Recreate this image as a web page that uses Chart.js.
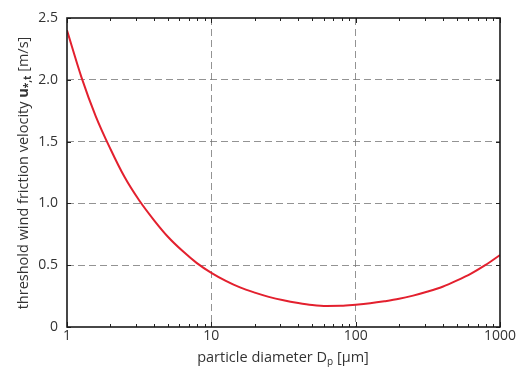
<!DOCTYPE html>
<html><head><meta charset="utf-8">
<script src="https://cdn.jsdelivr.net/npm/chart.js@4.4.1/dist/chart.umd.min.js"></script>
<style>html,body{margin:0;padding:0;background:#fff}#wrap{width:521px;height:367px;position:relative}</style>
</head><body><div id="wrap"><canvas id="c" width="521" height="367"></canvas></div>
<script>
const diameters = [1, 1.26, 1.58, 2, 2.5, 3.16, 4, 5, 6.3, 7.9, 10, 12.6, 15.8, 20, 25, 31.6, 40, 50, 63, 79, 100, 126, 158, 200, 250, 316, 400, 500, 630, 790, 1000];
const velocities = [2.40, 2.02, 1.707, 1.44, 1.215, 1.025, 0.865, 0.730, 0.616, 0.519, 0.438, 0.373, 0.320, 0.278, 0.244, 0.216, 0.194, 0.178, 0.170, 0.171, 0.180, 0.192, 0.208, 0.228, 0.254, 0.287, 0.326, 0.375, 0.432, 0.500, 0.582];
const xTickLabels = [1, 10, 100, 1000];
const yTickLabels = ['0', '0.5', '1.0', '1.5', '2.0', '2.5'];
const xTitle = ['particle diameter D', 'p', ' [\u00b5m]'];
const yTitle = ['threshold wind friction velocity ', 'u', '*,t', ' [m/s]'];

const FONT = "'Open Sans', sans-serif";
const TXT = '#333';

const framePlugin = {
  id: 'frame',
  afterDraw(chart) {
    const {ctx, chartArea: a, scales} = chart;
    const xs = scales.x, ys = scales.y;
    ctx.save();
    ctx.strokeStyle = '#222'; ctx.lineWidth = 1;
    for (let dec = 1; dec < 1000; dec *= 10) {
      for (let m = 1; m <= 10; m++) {
        const v = dec * m;
        const px = Math.round(xs.getPixelForValue(v)) + 0.5;
        const len = (m === 1 || m === 10) ? 5 : 3;
        ctx.beginPath();
        ctx.moveTo(px, a.bottom); ctx.lineTo(px, a.bottom - len);
        ctx.moveTo(px, a.top); ctx.lineTo(px, a.top + len);
        ctx.stroke();
      }
    }
    for (let i = 0; i < yTickLabels.length; i++) {
      const py = Math.round(ys.getPixelForValue(i * 0.5)) + 0.5;
      ctx.beginPath();
      ctx.moveTo(a.left, py); ctx.lineTo(a.left + 4, py);
      ctx.moveTo(a.right, py); ctx.lineTo(a.right - 4, py);
      ctx.stroke();
    }
    ctx.strokeStyle = '#1a1a1a'; ctx.lineWidth = 1.6;
    ctx.strokeRect(a.left, a.top, a.right - a.left, a.bottom - a.top);
    ctx.fillStyle = TXT;
    ctx.textBaseline = 'alphabetic';
    const f = "14.5px " + FONT, fs = "10px " + FONT;
    ctx.font = f; const w0 = ctx.measureText(xTitle[0]).width;
    ctx.font = fs; const w1 = ctx.measureText(xTitle[1]).width;
    ctx.font = f; const w2 = ctx.measureText(xTitle[2]).width;
    let x0 = 283 - (w0 + w1 + w2) / 2;
    const yb = 362;
    ctx.font = f; ctx.fillText(xTitle[0], x0, yb);
    ctx.font = fs; ctx.fillText(xTitle[1], x0 + w0, yb + 3);
    ctx.font = f; ctx.fillText(xTitle[2], x0 + w0 + w1, yb);
    ctx.save();
    ctx.translate(28, 173);
    ctx.rotate(-Math.PI / 2);
    const fb = "bold 14.5px " + FONT, fbs = "bold 10px " + FONT;
    ctx.font = f; const v0 = ctx.measureText(yTitle[0]).width;
    ctx.font = fb; const v1 = ctx.measureText(yTitle[1]).width;
    ctx.font = fbs; const v2 = ctx.measureText(yTitle[2]).width;
    ctx.font = f; const v3 = ctx.measureText(yTitle[3]).width;
    let s = -(v0 + v1 + v2 + v3) / 2;
    ctx.font = f; ctx.fillText(yTitle[0], s, 0);
    ctx.font = fb; ctx.fillText(yTitle[1], s + v0, 0);
    ctx.font = fbs; ctx.fillText(yTitle[2], s + v0 + v1, 3);
    ctx.font = f; ctx.fillText(yTitle[3], s + v0 + v1 + v2, 0);
    ctx.restore();
    ctx.restore();
  }
};

new Chart(document.getElementById('c'), {
  type: 'line',
  data: {
    datasets: [{
      data: diameters.map((d, i) => ({x: d, y: velocities[i]})),
      borderColor: '#e3202e',
      borderWidth: 2,
      pointRadius: 0,
      cubicInterpolationMode: 'monotone',
      fill: false
    }]
  },
  options: {
    responsive: false,
    animation: false,
    devicePixelRatio: 1,
    layout: {padding: {left: 0, right: 21, top: 18, bottom: 0}},
    plugins: {legend: {display: false}, tooltip: {enabled: false}},
    scales: {
      x: {
        type: 'logarithmic', min: 1, max: 1000,
        afterFit: s => { s.height = 40; },
        afterBuildTicks: s => { s.ticks = xTickLabels.map(v => ({value: v})); },
        ticks: {color: TXT, font: {family: FONT, size: 14}, padding: 1, maxRotation: 0, autoSkip: false,
          callback: v => String(v)},
        grid: {
          drawTicks: false,
          color: ctx => (ctx.tick && (ctx.tick.value === 10 || ctx.tick.value === 100)) ? '#777' : 'rgba(0,0,0,0)',
          lineWidth: 0.8
        },
        border: {display: false, dash: [7, 4]}
      },
      y: {
        min: 0, max: 2.5,
        afterFit: s => { s.width = 67; },
        afterBuildTicks: s => { s.ticks = yTickLabels.map((t, i) => ({value: i * 0.5})); },
        ticks: {color: TXT, font: {family: FONT, size: 14}, padding: 9,
          callback: (v, i) => yTickLabels[i]},
        grid: {
          drawTicks: false,
          color: ctx => (ctx.tick && ctx.tick.value > 0 && ctx.tick.value < 2.5) ? '#777' : 'rgba(0,0,0,0)',
          lineWidth: 0.8
        },
        border: {display: false, dash: [7, 4]}
      }
    }
  },
  plugins: [framePlugin]
});
</script></body></html>
